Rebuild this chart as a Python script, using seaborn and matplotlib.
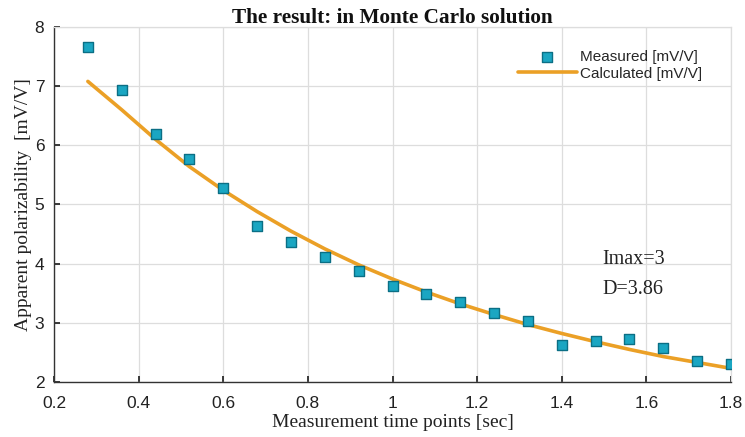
import matplotlib
matplotlib.use("Agg")
import matplotlib.pyplot as plt
import seaborn as sns
import pandas as pd

time_points = [0.28, 0.36, 0.44, 0.52, 0.60, 0.68, 0.76, 0.84, 0.92, 1.00,
               1.08, 1.16, 1.24, 1.32, 1.40, 1.48, 1.56, 1.64, 1.72, 1.80]
measured = [7.66, 6.94, 6.19, 5.77, 5.27, 4.63, 4.37, 4.11, 3.88, 3.62,
            3.48, 3.36, 3.16, 3.03, 2.62, 2.69, 2.72, 2.57, 2.35, 2.30]
calculated = [7.08, 6.60, 6.10, 5.64, 5.24, 4.88, 4.55, 4.25, 3.98, 3.74,
              3.52, 3.32, 3.14, 2.97, 2.82, 2.68, 2.55, 2.43, 2.33, 2.23]
x_ticks = [0.2, 0.4, 0.6, 0.8, 1, 1.2, 1.4, 1.6, 1.8]
x_tick_labels = ["0.2", "0.4", "0.6", "0.8", "1", "1.2", "1.4", "1.6", "1.8"]
y_ticks = [2, 3, 4, 5, 6, 7, 8]

df = pd.DataFrame({"t": time_points, "measured": measured, "calculated": calculated})

sns.set_theme(style="white")
plt.rcParams["font.family"] = ["Liberation Sans", "DejaVu Sans"]

fig = plt.figure(figsize=(7.45, 4.37), dpi=100)
ax = fig.add_axes([0.0725, 0.1259, 0.9087, 0.8124])

sns.lineplot(data=df, x="t", y="calculated", ax=ax, color="#EBA026", linewidth=2.6,
             label="Calculated [mV/V]", zorder=2)
sns.scatterplot(data=df, x="t", y="measured", ax=ax, marker="s", s=60,
                color="#1AA6C2", edgecolor="#0B6F85", linewidth=1.0,
                label="Measured [mV/V]", zorder=3)

ax.set_xlim(0.2, 1.8)
ax.set_ylim(2, 8)
ax.set_xticks(x_ticks)
ax.set_xticklabels(x_tick_labels)
ax.set_yticks(y_ticks)
ax.grid(True, color="#DDDDDD", linewidth=0.9)
ax.tick_params(direction="in", length=4, labelsize=12.5, colors="#222222",
               bottom=True, left=True)
ax.tick_params(axis="x", pad=10)
ax.tick_params(axis="y", pad=7)
for s in ["left", "bottom"]:
    ax.spines[s].set_color("#333333")
    ax.spines[s].set_linewidth(1.0)
for s in ["top", "right"]:
    ax.spines[s].set_color("#DDDDDD")
    ax.spines[s].set_linewidth(0.9)

serif = ["Liberation Serif", "DejaVu Serif"]
ax.set_xlabel("Measurement time points [sec]", family=serif, fontsize=14, labelpad=2, color="#222222")
ax.set_ylabel("Apparent polarizability  [mV/V]", family=serif, fontsize=14, labelpad=2, color="#222222")
ax.set_title("The result: in Monte Carlo solution", family=serif, fontsize=15.3,
             fontweight="bold", pad=3, color="#111111")

ax.text(1.495, 4.07, "Imax=3", family=serif, fontsize=14.5, va="center", ha="left", color="#222222")
ax.text(1.495, 3.57, "D=3.86", family=serif, fontsize=14.5, va="center", ha="left", color="#222222")

handles, labels = ax.get_legend_handles_labels()
order = [labels.index("Measured [mV/V]"), labels.index("Calculated [mV/V]")]
leg = ax.legend([handles[i] for i in order], [labels[i] for i in order],
                loc="upper right", bbox_to_anchor=(0.978, 0.975), frameon=False,
                fontsize=11, handlelength=3.9, handletextpad=0.2, labelspacing=0.2)

fig.savefig("out.png", dpi=100)
